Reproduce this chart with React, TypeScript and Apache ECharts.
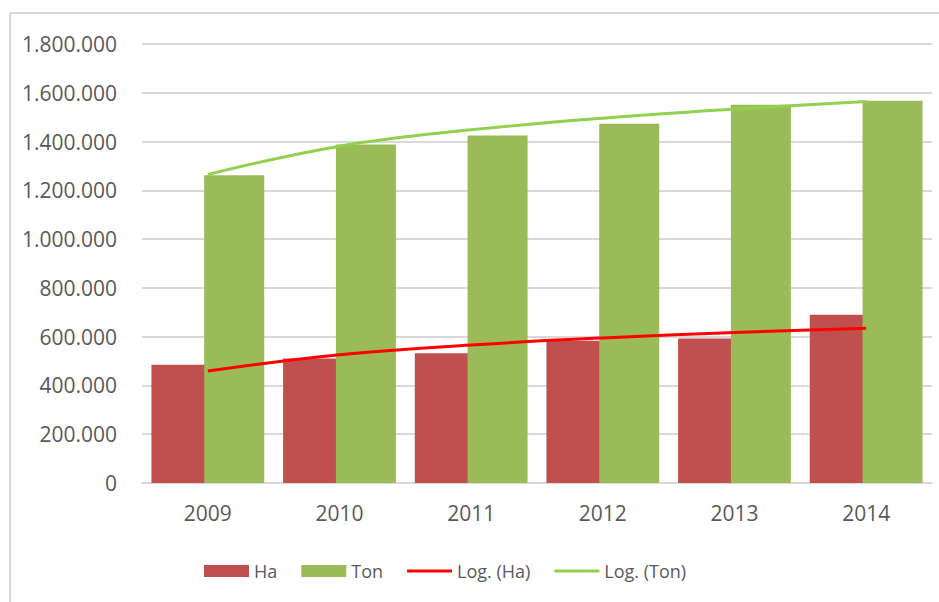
import React, { useEffect, useRef } from "react";
import * as echarts from "echarts";

const categories = ["2009", "2010", "2011", "2012", "2013", "2014"];
const haValues = [485000, 510000, 532000, 583000, 592000, 690000];
const tonValues = [1262000, 1388000, 1425000, 1473000, 1551000, 1567000];
const logHaValues = [459000, 526000, 566000, 595000, 617000, 635000];
const logTonValues = [1265000, 1381000, 1448000, 1496000, 1533000, 1564000];
const yTicks = { min: 0, max: 1800000, interval: 200000 };

const fmt = (v: number) => String(v).replace(/\B(?=(\d{3})+(?!\d))/g, ".");

export default function App() {
  const ref = useRef<HTMLDivElement>(null);
  useEffect(() => {
    if (!ref.current) return;
    const chart = echarts.init(ref.current, undefined, { renderer: "svg" });
    const font = "'Open Sans', sans-serif";
    const lineIcon = "path://M0,0H46V3H0Z";
    chart.setOption({
      animation: false,
      backgroundColor: "#ffffff",
      textStyle: { fontFamily: font },
      grid: { left: 142, right: 7, top: 44, bottom: 119, containLabel: false },
      graphic: [
        { type: "line", shape: { x1: 10, y1: 13, x2: 939, y2: 13 }, style: { stroke: "#D9D9D9", lineWidth: 2 } },
        { type: "line", shape: { x1: 10, y1: 13, x2: 10, y2: 602 }, style: { stroke: "#D9D9D9", lineWidth: 2 } },
      ],
      legend: {
        left: 204,
        top: 562,
        padding: 0,
        itemWidth: 45,
        itemHeight: 12,
        itemGap: 24,
        textStyle: { color: "#595959", fontSize: 18, fontFamily: font },
        data: [
          { name: "Ha", icon: "rect" },
          { name: "Ton", icon: "rect" },
          { name: "Log. (Ha)", icon: lineIcon },
          { name: "Log. (Ton)", icon: lineIcon },
        ],
      },
      xAxis: {
        type: "category",
        data: categories,
        axisLine: { lineStyle: { color: "#D9D9D9", width: 2 } },
        axisTick: { show: false },
        axisLabel: { color: "#595959", fontSize: 21, margin: 19, fontFamily: font },
      },
      yAxis: {
        type: "value",
        min: yTicks.min,
        max: yTicks.max,
        interval: yTicks.interval,
        axisLine: { show: false },
        axisTick: { show: false },
        splitLine: { lineStyle: { color: "#D9D9D9", width: 2 } },
        axisLabel: {
          color: "#595959",
          fontSize: 21,
          margin: 25,
          fontFamily: font,
          formatter: (v: number) => fmt(v),
        },
      },
      series: [
        {
          name: "Ha",
          type: "bar",
          data: haValues,
          barWidth: 60,
          barGap: "-12%",
          itemStyle: { color: "#C0504D" },
        },
        {
          name: "Ton",
          type: "bar",
          data: tonValues,
          barWidth: 60,
          itemStyle: { color: "#9BBB59" },
        },
        {
          name: "Log. (Ha)",
          type: "line",
          data: logHaValues,
          smooth: 0.4,
          symbol: "none",
          lineStyle: { color: "#FF0000", width: 3 },
          itemStyle: { color: "#FF0000" },
        },
        {
          name: "Log. (Ton)",
          type: "line",
          data: logTonValues,
          smooth: 0.4,
          symbol: "none",
          lineStyle: { color: "#92D050", width: 3 },
          itemStyle: { color: "#92D050" },
        },
      ],
    });
    return () => chart.dispose();
  }, []);
  return <div ref={ref} style={{ width: 939, height: 602, position: "absolute", left: 0, top: 0 }} />;
}
